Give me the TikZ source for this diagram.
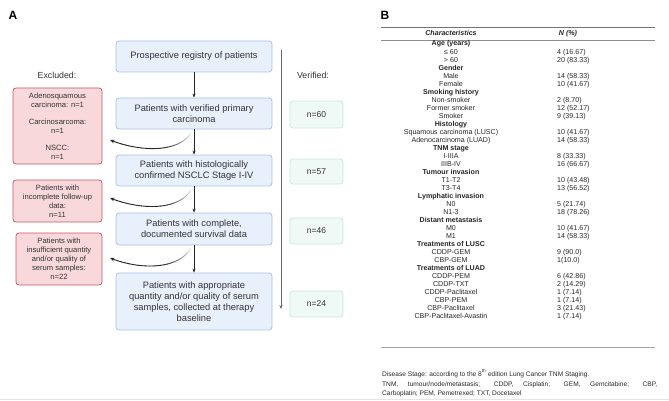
\documentclass[tikz,border=0pt]{standalone}
\usepackage{fontspec}
\setmainfont{Liberation Sans}
\usetikzlibrary{arrows.meta}
\definecolor{bfill}{HTML}{E8F0FB}
\definecolor{bdraw}{HTML}{A9C2EA}
\definecolor{rfill}{HTML}{F8D8DA}
\definecolor{rdraw}{HTML}{C55A63}
\definecolor{gfill}{HTML}{EFF9F5}
\definecolor{gdraw}{HTML}{C8E8DA}
\definecolor{txt}{HTML}{333333}
\tikzset{
  bluebox/.style={draw=bdraw, fill=bfill, rounded corners=3pt, line width=0.8pt, minimum width=156pt, align=center, text=txt, font=\fontsize{9.3}{11}\selectfont, inner sep=2pt},
  redbox/.style={draw=rdraw, fill=rfill, rounded corners=3pt, line width=0.8pt, align=center, text=txt, font=\fontsize{7.6}{9}\selectfont, inner sep=2pt},
  greenbox/.style={draw=gdraw, fill=gfill, rounded corners=3pt, line width=0.8pt, minimum width=53pt, text=txt, font=\fontsize{8.5}{10}\selectfont},
  headlbl/.style={text=txt, font=\fontsize{8.8}{10}\selectfont},
  panel/.style={font=\fontsize{12}{14}\selectfont\bfseries},
  down/.style={-{Stealth[length=4pt,width=3.2pt]}, line width=0.6pt, black!85},
  curvseg/.style={line width=0.9pt, line cap=round},
  curvtip/.style={-{Stealth[length=4.5pt,width=3.8pt]}, line width=0.9pt, black!85},
  tl/.style={font=\fontsize{7.1}{8}\selectfont, inner sep=0pt, text=black!85},
  foot/.style={font=\fontsize{6.6}{9.5}\selectfont, inner sep=0pt, text=black!85, anchor=base west},
}
\begin{document}
\begin{tikzpicture}[x=1pt,y=-1pt]
\useasboundingbox (0,0) rectangle (669,401);
% panel labels
\node[panel] (A) at (13,15) {A};
\node[panel] (B) at (385,15) {B};
% flowchart
\node[bluebox, minimum height=31pt] (b1) at (194,56.5) {Prospective registry of patients};
\node[bluebox, minimum height=31pt] (b2) at (194,113.5) {Patients with verified primary\\carcinoma};
\node[bluebox, minimum height=31pt] (b3) at (194,170.5) {Patients with histologically\\confirmed NSCLC Stage I-IV};
\node[bluebox, minimum height=32pt] (b4) at (194,229) {Patients with complete,\\documented survival data};
\node[bluebox, minimum height=57pt] (b5) at (194,301.5) {Patients with appropriate\\quantity and/or quality of serum\\samples, collected at therapy\\baseline};
\draw[down] (b1) -- (b2);
\draw[down] (b2) -- (b3);
\draw[down] (b3) -- (b4);
\draw[down] (b4) -- (b5);
% headings
\node[headlbl] (exc) at (57,75) {Excluded:};
\node[headlbl] (ver) at (313,75) {Verified:};
% red boxes
\node[redbox, minimum width=89pt, minimum height=76pt] (r1) at (57.5,126) {Adenosquamous\\carcinoma: n=1\\[8pt]Carcinosarcoma:\\n=1\\[8pt]NSCC:\\n=1};
\node[redbox, minimum width=89pt, minimum height=42pt] (r2) at (57.5,201) {Patients with\\incomplete follow-up\\data:\\n=11};
\node[redbox, minimum width=86pt, minimum height=52pt] (r3) at (59,259) {Patients with\\insufficient quantity\\and/or quality of\\serum samples:\\n=22};
% curved arrows (fading in from the centre line)
\coordinate (s1) at (191,133);
\coordinate (e1) at (110,140);
\coordinate (s2) at (191,190);
\coordinate (e2) at (110,198);
\coordinate (s3) at (191,248);
\coordinate (e3) at (110,258);
\foreach \s/\e/\ca/\cb/\n in {s1/e1/{(178,153)}/{(140,152)}/ca, s2/e2/{(178,211)}/{(140,210)}/cb, s3/e3/{(178,270)}/{(140,270)}/cc} {
  \foreach \k in {0,...,24} {
    \pgfmathsetmacro\tpos{\k/24}
    \path (\s) .. controls \ca and \cb .. (\e) coordinate[pos=\tpos] (\n\k);
  }
  \foreach \k in {1,...,23} {
    \pgfmathtruncatemacro\j{\k-1}
    \pgfmathsetmacro\c{min(85,3+85*\k/24/0.45)}
    \draw[curvseg, black!\c] (\n\j) -- (\n\k);
  }
  \draw[curvtip] (\n23) -- (\n24);
}
% green boxes
\node[greenbox, minimum height=27pt] (g1) at (316.5,114.5) {n=60};
\node[greenbox, minimum height=25pt] (g2) at (316.5,171.5) {n=57};
\node[greenbox, minimum height=26pt] (g3) at (316.5,231) {n=46};
\node[greenbox, minimum height=26pt] (g4) at (316.5,304) {n=24};
% vertical line
\coordinate (vtop) at (281,50);
\coordinate (vbot) at (281,309);
\draw[-{Stealth[length=4pt,width=3.2pt]}, line width=0.8pt, black!60] (vtop) -- (vbot);
% table
\coordinate (t1l) at (381,27); \coordinate (t1r) at (655,27);
\coordinate (t2l) at (381,40); \coordinate (t2r) at (655,40);
\coordinate (t3l) at (381,347); \coordinate (t3r) at (655,347);
\draw[black!55, line width=0.7pt] (t1l) -- (t1r);
\draw[black!45, line width=0.5pt] (t2l) -- (t2r);
\draw[black!35, line width=0.6pt] (t3l) -- (t3r);
\node[tl, anchor=base] (hc) at (451,36) {\textbf{\textit{Characteristics}}};
\node[tl, anchor=base] (hn) at (568,36) {\textbf{\textit{N (\%)}}};
\foreach [count=\i] \t/\v in {
  {\textbf{Age (years)}}/{},
  {≤ 60}/{4 (16.67)},
  {> 60}/{20 (83.33)},
  {\textbf{Gender}}/{},
  {Male}/{14 (58.33)},
  {Female}/{10 (41.67)},
  {\textbf{Smoking history}}/{},
  {Non-smoker}/{2 (8.70)},
  {Former smoker}/{12 (52.17)},
  {Smoker}/{9 (39.13)},
  {\textbf{Histology}}/{},
  {Squamous carcinoma (LUSC)}/{10 (41.67)},
  {Adenocarcinoma (LUAD)}/{14 (58.33)},
  {\textbf{TNM stage}}/{},
  {I-IIIA}/{8 (33.33)},
  {IIIB-IV}/{16 (66.67)},
  {\textbf{Tumour invasion}}/{},
  {T1-T2}/{10 (43.48)},
  {T3-T4}/{13 (56.52)},
  {\textbf{Lymphatic invasion}}/{},
  {N0}/{5 (21.74)},
  {N1-3}/{18 (78.26)},
  {\textbf{Distant metastasis}}/{},
  {M0}/{10 (41.67)},
  {M1}/{14 (58.33)},
  {\textbf{Treatments of LUSC}}/{},
  {CDDP-GEM}/{9 (90.0)},
  {CBP-GEM}/{1(10.0)},
  {\textbf{Treatments of LUAD}}/{},
  {CDDP-PEM}/{6 (42.86)},
  {CDDP-TXT}/{2 (14.29)},
  {CDDP-Paclitaxel}/{1 (7.14)},
  {CBP-PEM}/{1 (7.14)},
  {CBP-Paclitaxel}/{3 (21.43)},
  {CBP-Paclitaxel-Avastin}/{1 (7.14)}} {
  \node[tl, anchor=base] (L\i) at (451,{46+8.01*(\i-1)}) {\t};
  \node[tl, anchor=base west] (R\i) at (557,{46+8.01*(\i-1)}) {\v};
}
% footnote
\node[foot] (f1) at (382,376) {Disease Stage: according to the 8\textsuperscript{th} edition Lung Cancer TNM Staging.};
\node[foot] (f2) at (382,386) {\makebox[275pt][s]{TNM, tumour/node/metastasis; CDDP, Cisplatin; GEM, Gemcitabine; CBP,}};
\node[foot] (f3) at (382,395.5) {Carboplatin; PEM, Pemetrexed; TXT, Docetaxel};
% bottom separator
\coordinate (bl) at (0,399.5); \coordinate (br) at (669,399.5);
\draw[black!10, line width=0.8pt] (bl) -- (br);
\end{tikzpicture}
\end{document}
